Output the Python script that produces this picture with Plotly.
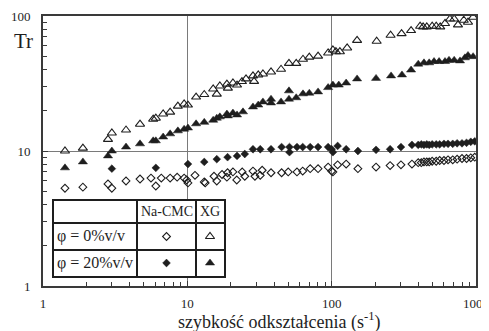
import plotly.graph_objects as go

# ---------------- data ----------------
xg0_x = [1.42, 1.89, 2.82, 3.0, 3.76, 4.7, 5.8, 6.05, 6.8, 7.6, 8.6, 9.5, 10.1, 11.5, 13.1,
         15.1, 16.0, 16.8, 18.8, 19.1, 20.7, 22.1, 23.9, 25.5, 28.5, 29.0, 31.0, 33.4, 38.0,
         44.6, 50.6, 56.8, 63.3, 70.0, 80.5, 94.5, 102, 107, 114, 128, 150, 205, 256, 305,
         355, 410, 430, 456, 497, 530, 565, 610, 660, 706, 750, 823, 880, 955]
xg0_y = [10.0, 10.5, 12.2, 13.6, 14.3, 15.8, 17.2, 17.5, 18.8, 19.4, 21.5, 22.3, 21.9, 25.1, 26.2,
         28.8, 26.4, 30.3, 31.3, 29.2, 31.9, 30.8, 32.7, 34.2, 36.0, 32.8, 36.6, 37.2, 38.5,
         40.3, 44.6, 44.6, 47.8, 49.6, 50.4, 53.2, 56.0, 54.4, 54.4, 58.0, 66.0, 65.0, 72.0, 74.0,
         78.0, 84.0, 83.0, 83.0, 84.0, 84.0, 83.0, 88.0, 95.0, 95.0, 86.0, 93.0, 90.0, 98.0]

xg20_x = [1.42, 1.89, 2.82, 3.0, 3.76, 4.7, 5.8, 6.05, 6.8, 7.6, 8.6, 9.5, 10.1, 11.5, 13.1,
          15.1, 16.0, 16.8, 18.8, 19.1, 20.7, 22.1, 24.3, 28.5, 31.0, 33.4, 38.0, 38.0, 44.6,
          50.6, 50.6, 56.8, 63.3, 70.0, 80.5, 94.5, 102, 112, 126, 150, 203, 258, 307, 355,
          398, 436, 474, 512, 555, 610, 650, 706, 775, 838, 880, 955]
xg20_y = [7.5, 8.3, 9.2, 10.0, 10.7, 11.3, 11.9, 11.9, 12.7, 13.4, 14.1, 14.5, 14.8, 15.9, 16.3,
          16.9, 17.5, 17.9, 18.8, 18.2, 19.1, 18.5, 19.5, 21.2, 21.9, 23.1, 24.2, 22.7, 23.1,
          27.9, 24.2, 24.8, 26.5, 26.8, 27.4, 29.5, 30.8, 30.8, 31.9, 34.2, 34.5, 36.0, 36.6, 39.8,
          44.0, 45.0, 45.0, 46.0, 46.0, 46.0, 47.0, 47.0, 46.5, 49.0, 51.0, 50.0]

cmc0_x = [1.42, 1.89, 2.82, 3.0, 3.76, 4.7, 5.6, 6.05, 6.6, 7.6, 8.5, 9.5, 9.9, 10.1, 11.3,
          13.1, 13.3, 15.3, 16.0, 17.4, 18.8, 19.0, 20.7, 22.0, 24.0, 25.0, 28.5, 29.4, 32.0,
          33.0, 38.0, 45.0, 50.0, 57.5, 63.0, 71.0, 80.5, 94.5, 100, 102, 110, 126, 152, 203,
          254, 302, 360, 398, 418, 436, 456, 474, 497, 530, 560, 600, 640, 690, 740, 800, 860,
          920, 980]
cmc0_y = [5.3, 5.4, 5.7, 5.3, 6.0, 6.2, 6.3, 5.5, 6.3, 6.3, 6.4, 6.3, 6.1, 5.8, 6.6,
          5.9, 5.8, 6.5, 6.0, 6.7, 6.4, 6.9, 7.0, 6.1, 7.0, 6.5, 7.1, 6.5, 6.6,
          7.2, 6.9, 6.9, 7.0, 7.0, 7.1, 7.4, 7.4, 7.6, 7.1, 7.0, 7.9, 8.0, 7.4, 7.6,
          7.8, 7.9, 8.0, 8.2, 8.2, 8.3, 8.3, 8.3, 8.4, 8.4, 8.5, 8.5, 8.6, 8.6, 8.7, 8.8, 8.8,
          8.9, 9.0]

cmc20_x = [3.0, 6.05, 10.1, 13.1, 16.0, 19.0, 22.1, 25.0, 28.5, 32.0, 38.0, 45.0, 51.0, 51.0,
           57.5, 63.0, 71.0, 80.5, 94.5, 100, 102, 110, 126, 152, 203, 254, 302, 360, 398,
           418, 436, 456, 474, 497, 530, 560, 600, 640, 690, 740, 800, 860, 920, 980]
cmc20_y = [7.4, 7.5, 8.0, 8.3, 8.7, 9.0, 9.2, 9.5, 10.3, 10.3, 10.3, 10.7, 10.7, 9.8,
           10.7, 10.7, 10.7, 10.7, 10.7, 10.3, 9.8, 10.9, 10.3, 10.0, 10.2, 10.3, 10.7, 11.1, 11.1,
           11.2, 11.1, 11.2, 11.1, 11.2, 11.2, 11.2, 11.3, 11.3, 11.3, 11.4, 11.4, 11.5, 11.7, 11.8]

x_tick_vals = [1, 10, 100, 1000]
x_tick_text = ["1", "10", "100", "1000"]
y_tick_vals = [1, 10, 100]
y_tick_text = ["1", "10", "100"]

table_header = ["Na-CMC", "XG"]
table_rows = ["φ = 0%v/v", "φ = 20%v/v"]

# ---------------- styling ----------------
FONT = "Liberation Serif, Times New Roman, serif"
INK = "#1e1e1e"
AX = "#3a3a3a"
GRID = "#7a7a7a"

OFF = 8                      # default page margin of the html body
PW, PH = 489, 331            # browser window
W, H = PW - OFF, PH - OFF    # figure size so it fits exactly
# plot area in page pixels
PX0, PX1, PY0, PY1 = 43, 476, 16, 286
L, T = PX0 - OFF, PY0 - OFF
R, B = W - (PX1 - OFF), H - (PY1 - OFF)
pw, ph = PX1 - PX0, PY1 - PY0


def px(xp):   # page x -> paper fraction
    return (xp - PX0) / pw


def py(yp):   # page y -> paper fraction
    return (PY1 - yp) / ph


sym = {
    "cmc0": dict(symbol="diamond-open", size=6, color=INK, line=dict(width=1.1, color=INK)),
    "xg0": dict(symbol="triangle-up-open", size=8, color=INK, line=dict(width=1.1, color=INK)),
    "cmc20": dict(symbol="diamond", size=6, color=INK, line=dict(width=0.5, color=INK)),
    "xg20": dict(symbol="triangle-up", size=8, color=INK, line=dict(width=0.5, color=INK)),
}

fig = go.Figure()
fig.add_trace(go.Scatter(x=xg0_x, y=xg0_y, mode="markers", marker=sym["xg0"], name="XG 0%"))
fig.add_trace(go.Scatter(x=xg20_x, y=xg20_y, mode="markers", marker=sym["xg20"], name="XG 20%"))
fig.add_trace(go.Scatter(x=cmc0_x, y=cmc0_y, mode="markers", marker=sym["cmc0"], name="Na-CMC 0%"))
fig.add_trace(go.Scatter(x=cmc20_x, y=cmc20_y, mode="markers", marker=sym["cmc20"], name="Na-CMC 20%"))

# ---------------- legend table as an inset subplot ----------------
tw, th = 170, 75
col_edges = [0, 83, 142, 170]
row_edges = [75, 53, 26, 0]   # top -> bottom
col_c = [(col_edges[i] + col_edges[i + 1]) / 2 for i in range(3)]
row_c = [(row_edges[i] + row_edges[i + 1]) / 2 for i in range(3)]
tx0, ty0 = 54, 201  # table top-left, page pixels

legend_syms = [["cmc0", "xg0"], ["cmc20", "xg20"]]
for r in range(2):
    for c in range(2):
        fig.add_trace(go.Scatter(x=[col_c[c + 1]], y=[row_c[r + 1]], mode="markers",
                                 marker=sym[legend_syms[r][c]], xaxis="x2", yaxis="y2",
                                 hoverinfo="skip"))

ann = []
for c, txt in enumerate(table_header):
    ann.append(dict(x=col_c[c + 1], y=row_c[0], xref="x2", yref="y2", text=txt, showarrow=False,
                    xanchor="center", yanchor="middle",
                    font=dict(family=FONT, size=14, color=INK)))
for r, txt in enumerate(table_rows):
    ann.append(dict(x=0.5, y=row_c[r + 1], xref="x2", yref="y2", text=txt, showarrow=False,
                    xanchor="left", yanchor="middle", font=dict(family=FONT, size=16, color=INK)))

ann.append(dict(x=px(23), y=py(41), xref="paper", yref="paper", text="Tr",
                xanchor="center", yanchor="middle",
                showarrow=False, font=dict(family=FONT, size=21, color=INK)))
ann.append(dict(x=px(279), y=py(321), xref="paper", yref="paper",
                text="szybkość odkształcenia (s<sup>-1</sup>)", showarrow=False,
                xanchor="center", yanchor="middle",
                font=dict(family=FONT, size=18, color=INK)))

fig.update_layout(
    width=W, height=H,
    margin=dict(l=L, r=R, t=T, b=B, autoexpand=False),
    paper_bgcolor="white", plot_bgcolor="white",
    showlegend=False,
    annotations=ann,
    xaxis=dict(type="log", range=[0, 3], tickmode="array", tickvals=x_tick_vals, ticktext=x_tick_text,
               ticks="inside", ticklen=5, tickcolor=AX, tickwidth=1,
               showline=True, linecolor=AX, linewidth=2, mirror=True,
               showgrid=True, gridcolor=GRID, gridwidth=1, zeroline=False,
               tickfont=dict(family=FONT, size=13, color=INK), ticklabelstandoff=4,
               minor=dict(ticks="inside", ticklen=4, tickcolor=AX, dtick="D1", showgrid=False)),
    yaxis=dict(type="log", range=[0, 2], tickmode="array", tickvals=y_tick_vals, ticktext=y_tick_text,
               ticks="inside", ticklen=5, tickcolor=AX, tickwidth=1,
               showline=True, linecolor=AX, linewidth=2, mirror=True,
               showgrid=True, gridcolor=GRID, gridwidth=1, zeroline=False,
               tickfont=dict(family=FONT, size=13, color=INK), ticklabelstandoff=8,
               minor=dict(ticks="inside", ticklen=4, tickcolor=AX, dtick="D1", showgrid=False)),
    xaxis2=dict(domain=[px(tx0), px(tx0 + tw)], range=[0, tw], anchor="y2",
                tickmode="array", tickvals=col_edges[1:3], showticklabels=False, ticks="",
                showgrid=True, gridcolor=INK, gridwidth=1.5, zeroline=False,
                showline=True, linecolor=INK, linewidth=1.5, mirror=True, fixedrange=True),
    yaxis2=dict(domain=[py(ty0 + th), py(ty0)], range=[0, th], anchor="x2",
                tickmode="array", tickvals=row_edges[1:3], showticklabels=False, ticks="",
                showgrid=True, gridcolor=INK, gridwidth=1.5, zeroline=False,
                showline=True, linecolor=INK, linewidth=1.5, mirror=True, fixedrange=True),
)

fig.write_html("out.html")
